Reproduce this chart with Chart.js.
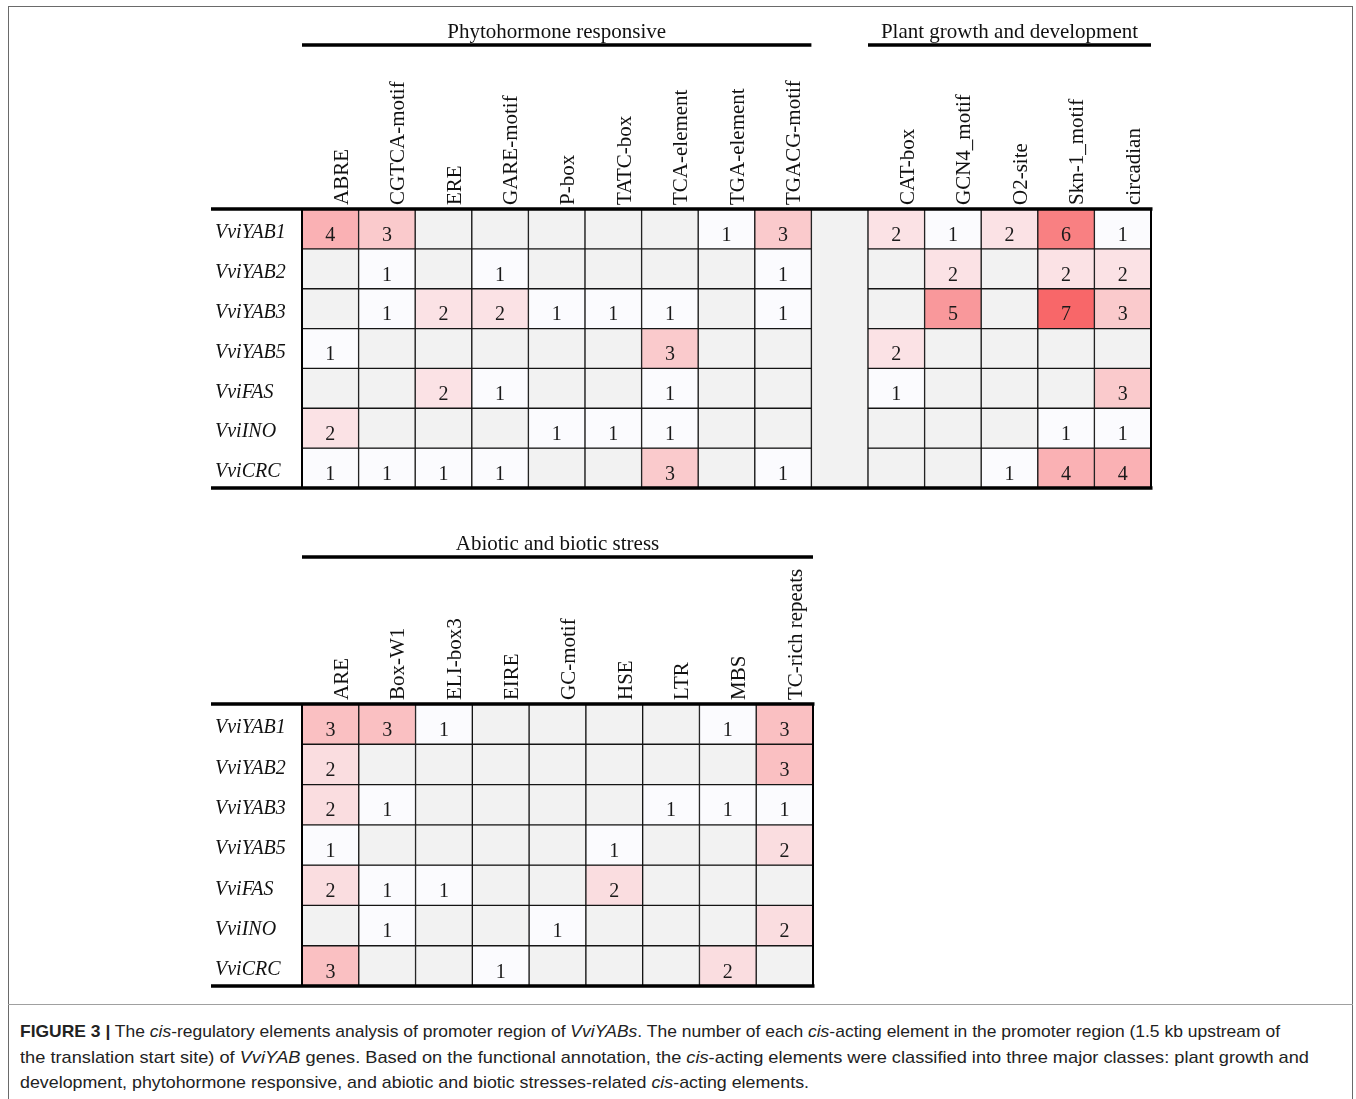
<!DOCTYPE html>
<html><head><meta charset="utf-8">
<script src="https://cdn.jsdelivr.net/npm/chart.js@4.4.1/dist/chart.umd.min.js"></script>
<style>
html,body{margin:0;padding:0;background:#fff;}
body{width:1356px;height:1099px;position:relative;overflow:hidden;}
#frame{position:absolute;left:8px;top:6px;width:1345px;height:1200px;border:1.5px solid #6a6a6a;box-sizing:border-box;}
#sep{position:absolute;left:8px;top:1004px;width:1345px;height:0;border-top:1px solid #a0a0a0;}
canvas{position:absolute;left:0;}
#topC{top:0;}
#botC{top:500px;}
#caption{position:absolute;left:20px;top:1019px;font-family:"Liberation Sans Narrow","Liberation Sans",Arial,sans-serif;font-size:17px;color:#222;}
.cl{white-space:nowrap;transform-origin:0 0;height:25.5px;line-height:25.5px;}
</style></head>
<body>
<div id="frame"></div>
<div id="sep"></div>
<canvas id="topC" width="1356" height="500"></canvas>
<canvas id="botC" width="1356" height="500"></canvas>
<div id="caption">
<div class="cl" data-w="1260"><b>FIGURE 3 |</b> The <i>cis</i>-regulatory elements analysis of promoter region of <i>VviYABs</i>. The number of each <i>cis</i>-acting element in the promoter region (1.5 kb upstream of</div>
<div class="cl" data-w="1289">the translation start site) of <i>VviYAB</i> genes. Based on the functional annotation, the <i>cis</i>-acting elements were classified into three major classes: plant growth and</div>
<div class="cl" data-w="789">development, phytohormone responsive, and abiotic and biotic stresses-related <i>cis</i>-acting elements.</div>
</div>
<script>
// ---------- DATA ----------
const genes = ['VviYAB1','VviYAB2','VviYAB3','VviYAB5','VviFAS','VviINO','VviCRC'];
const phytoElements = ['ABRE','CGTCA-motif','ERE','GARE-motif','P-box','TATC-box','TCA-element','TGA-element','TGACG-motif'];
const growthElements = ['CAT-box','GCN4_motif','O2-site','Skn-1_motif','circadian'];
const stressElements = ['ARE','Box-W1','ELI-box3','EIRE','GC-motif','HSE','LTR','MBS','TC-rich repeats'];
const groupTitles = ['Phytohormone responsive','Plant growth and development','Abiotic and biotic stress'];
// counts per gene (rows) x element (columns); 0 = not present
const phytoCounts = [
  [4,3,0,0,0,0,0,1,3],
  [0,1,0,1,0,0,0,0,1],
  [0,1,2,2,1,1,1,0,1],
  [1,0,0,0,0,0,3,0,0],
  [0,0,2,1,0,0,1,0,0],
  [2,0,0,0,1,1,1,0,0],
  [1,1,1,1,0,0,3,0,1]
];
const growthCounts = [
  [2,1,2,6,1],
  [0,2,0,2,2],
  [0,5,0,7,3],
  [2,0,0,0,0],
  [1,0,0,0,3],
  [0,0,0,1,1],
  [0,0,1,4,4]
];
const stressCounts = [
  [3,3,1,0,0,0,0,1,3],
  [2,0,0,0,0,0,0,0,3],
  [2,1,0,0,0,0,1,1,1],
  [1,0,0,0,0,1,0,0,2],
  [2,1,1,0,0,2,0,0,0],
  [0,1,0,0,1,0,0,0,2],
  [3,0,0,1,0,0,0,2,0]
];

// ---------- STYLE HELPERS ----------
const SERIF = '"Liberation Serif","Times New Roman",serif';
Chart.defaults.font.family = SERIF;
Chart.defaults.color = '#111';
const EMPTY = '#f2f2f2';
function heat(v, vmax){
  if (!v) return EMPTY;
  const t = (v - 1) / (vmax - 1);
  const lo = [251,251,254], hi = [248,103,105];
  return 'rgb(' + lo.map((c,k)=>Math.round(c + (hi[k]-c)*t)).join(',') + ')';
}

const cellText = {
  id: 'cellText',
  afterDatasetsDraw(chart){
    const ctx = chart.ctx;
    ctx.save();
    ctx.font = '20px ' + SERIF;
    ctx.fillStyle = '#1a1a1a';
    ctx.textAlign = 'center';
    ctx.textBaseline = 'middle';
    chart.data.datasets.forEach((ds, di) => {
      if (!ds.counts) return;
      const meta = chart.getDatasetMeta(di);
      meta.data.forEach((el, j) => {
        const v = ds.counts[j];
        if (!v) return;
        ctx.fillText(String(v), el.x, (el.y + el.base) / 2 + 6.5);
      });
    });
    ctx.restore();
  }
};

const tableRules = {
  id: 'tableRules',
  afterDatasetsDraw(chart){
    const {ctx, scales:{x, y}} = chart;
    const top = y.getPixelForValue(0), bot = y.getPixelForValue(genes.length);
    ctx.save();
    ctx.strokeStyle = '#000';
    ctx.lineWidth = 2;
    ctx.beginPath();
    ctx.moveTo(x.left, top); ctx.lineTo(x.left, bot);
    ctx.moveTo(x.right, top); ctx.lineTo(x.right, bot);
    ctx.stroke();
    ctx.lineWidth = 3.5;
    ctx.beginPath();
    ctx.moveTo(y.left - 4, top); ctx.lineTo(x.right + 1.5, top);
    ctx.moveTo(y.left - 4, bot); ctx.lineTo(x.right + 1.5, bot);
    ctx.stroke();
    ctx.restore();
  }
};

const groupHeaders = {
  id: 'groupHeaders',
  afterDraw(chart, args, opts){
    const {ctx, scales:{x}} = chart;
    const half = (x.getPixelForValue(1) - x.getPixelForValue(0)) / 2;
    ctx.save();
    ctx.font = '21px ' + SERIF;
    ctx.fillStyle = '#111';
    ctx.textAlign = 'center';
    ctx.textBaseline = 'alphabetic';
    ctx.strokeStyle = '#000';
    ctx.lineWidth = 3.5;
    (opts.groups || []).forEach(g => {
      const l = x.getPixelForValue(g.from) - half;
      const r = x.getPixelForValue(g.to) + half;
      ctx.fillText(g.title, (l + r) / 2, opts.textY);
      ctx.beginPath();
      ctx.moveTo(l, opts.lineY); ctx.lineTo(r, opts.lineY);
      ctx.stroke();
    });
    ctx.restore();
  }
};

function buildChart(canvasId, columns, rowVals, vmax, spacerIdx, groups, pad, axisH, textY, lineY){
  const datasets = genes.map((g, i) => ({
    label: g,
    data: rowVals[i].map(v => v === null ? null : [i, i + 1]),
    counts: rowVals[i],
    backgroundColor: rowVals[i].map(v => heat(v, vmax)),
    borderColor: '#151515',
    borderWidth: 1,
    borderSkipped: false
  }));
  if (spacerIdx !== null) {
    datasets.push({
      label: 'spacer',
      data: columns.map((c, j) => j === spacerIdx ? [0, genes.length] : null),
      backgroundColor: EMPTY,
      borderColor: '#151515',
      borderWidth: 1,
      borderSkipped: false
    });
  }
  return new Chart(document.getElementById(canvasId), {
    type: 'bar',
    data: { labels: columns, datasets },
    options: {
      responsive: false,
      animation: false,
      events: [],
      grouped: false,
      barPercentage: 1,
      categoryPercentage: 1,
      layout: { padding: pad },
      plugins: {
        legend: { display: false },
        tooltip: { enabled: false },
        groupHeaders: { groups, textY, lineY }
      },
      scales: {
        x: {
          type: 'category',
          position: 'top',
          grid: { display: false, drawTicks: false },
          border: { display: false },
          ticks: {
            autoSkip: false, minRotation: 90, maxRotation: 90,
            padding: 4, labelOffset: 37,
            font: { size: 21, family: SERIF }, color: '#111'
          },
          afterFit(s){ s.height = axisH; }
        },
        y: {
          type: 'linear',
          min: 0, max: genes.length, reverse: true,
          grid: { display: false, drawTicks: false },
          border: { display: false },
          afterBuildTicks(s){ s.ticks = genes.map((g, i) => ({ value: i + 0.5 })); },
          ticks: {
            autoSkip: false, crossAlign: 'far', padding: 0, labelOffset: 4,
            font: { size: 20, style: 'italic', family: SERIF }, color: '#111',
            callback: (v, i) => genes[i]
          },
          afterFit(s){ s.width = 87; }
        }
      }
    },
    plugins: [tableRules, cellText, groupHeaders]
  });
}

// top table: phytohormone + spacer + growth
const topColumns = [...phytoElements, '', ...growthElements];
const topRows = genes.map((g, i) => [...phytoCounts[i], null, ...growthCounts[i]]);
const spacer = phytoElements.length;
buildChart('topC', topColumns, topRows, 7, spacer,
  [{title: groupTitles[0], from: 0, to: phytoElements.length - 1},
   {title: groupTitles[1], from: spacer + 1, to: spacer + growthElements.length}],
  {left: 215, right: 205, top: 60, bottom: 10}, 149, 38, 45);

// bottom table: stress
buildChart('botC', stressElements, stressCounts, 6, null,
  [{title: groupTitles[2], from: 0, to: stressElements.length - 1}],
  {left: 215, right: 543, top: 60, bottom: 14}, 144, 50, 57);

// caption line fitting
document.querySelectorAll('.cl').forEach(el => {
  el.style.display = 'inline-block';
  const w = el.getBoundingClientRect().width;
  const target = +el.dataset.w;
  el.style.display = 'block';
  el.style.width = w + 'px';
  el.style.transform = 'scaleX(' + (target / w) + ')';
});
</script>
</body></html>
